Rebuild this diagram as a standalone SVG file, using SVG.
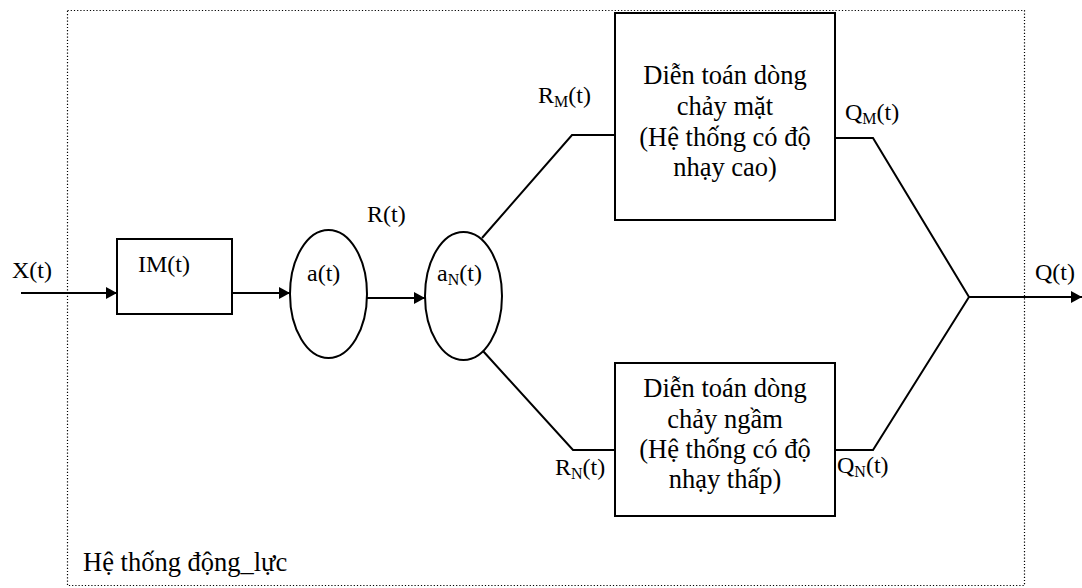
<svg xmlns="http://www.w3.org/2000/svg" width="1082" height="588" viewBox="0 0 1082 588">
<style>
text{font-family:"Liberation Serif","Times New Roman",serif;font-size:24px;fill:#000}
.s{font-size:16px}
.b{font-size:26.5px}
.c{text-anchor:middle}
.ln{stroke:#000;stroke-width:2;fill:none}
.shape{stroke:#000;stroke-width:2;fill:#fff}
</style>
<defs>
<marker id="arr" viewBox="0 0 11 12" refX="11" refY="6" markerWidth="11" markerHeight="12" markerUnits="userSpaceOnUse" orient="auto">
<path d="M0,0 L11,6 L0,12 Z" fill="#000"/>
</marker>
</defs>
<g id="frame">
<rect x="67.5" y="10.5" width="957" height="575" fill="none" stroke="#000" stroke-width="1.2" stroke-dasharray="1.2,2"/>
<text class="b" x="83" y="571">Hệ thống động_lực</text>
</g>
<g id="connectors">
<line class="ln" x1="21" y1="293" x2="117" y2="293" marker-end="url(#arr)"/>
<line class="ln" x1="232" y1="293" x2="290" y2="293" marker-end="url(#arr)"/>
<line class="ln" x1="367" y1="298" x2="425" y2="298" marker-end="url(#arr)"/>
<polyline class="ln" points="482,238 572,135 615,135"/>
<polyline class="ln" points="483,351 573,450 615,450"/>
<polyline class="ln" points="835,138 873,138 969,297"/>
<polyline class="ln" points="835,450 873,450 969,297"/>
<line class="ln" x1="969" y1="297" x2="1082" y2="297" marker-end="url(#arr)"/>
</g>
<g id="labels">
<text x="12" y="278">X(t)</text>
<text x="367" y="222">R(t)</text>
<text x="538" y="103">R<tspan class="s" dy="4">M</tspan><tspan dy="-4">(t)</tspan></text>
<text x="555" y="475">R<tspan class="s" dy="4">N</tspan><tspan dy="-4">(t)</tspan></text>
<text x="845" y="120">Q<tspan class="s" dy="4">M</tspan><tspan dy="-4">(t)</tspan></text>
<text x="837" y="473">Q<tspan class="s" dy="4">N</tspan><tspan dy="-4">(t)</tspan></text>
<text x="1035" y="280">Q(t)</text>
</g>
<g id="node-im">
<rect class="shape" x="117" y="239" width="115" height="75"/>
<text x="138" y="272">IM(t)</text>
</g>
<g id="node-a">
<ellipse class="shape" cx="328.5" cy="294" rx="38.5" ry="64"/>
<text x="307" y="281">a(t)</text>
</g>
<g id="node-an">
<ellipse class="shape" cx="463.5" cy="296" rx="38.5" ry="64"/>
<text x="437" y="281">a<tspan class="s" dy="4">N</tspan><tspan dy="-4">(t)</tspan></text>
</g>
<g id="node-mat">
<rect class="shape" x="615" y="13" width="220" height="207"/>
<text class="b c" x="725" y="84">Diễn toán dòng</text>
<text class="b c" x="725" y="115">chảy mặt</text>
<text class="b c" x="725" y="146">(Hệ thống có độ</text>
<text class="b c" x="725" y="176">nhạy cao)</text>
</g>
<g id="node-ngam">
<rect class="shape" x="615" y="363" width="220" height="153"/>
<text class="b c" x="725" y="397">Diễn toán dòng</text>
<text class="b c" x="725" y="428">chảy ngầm</text>
<text class="b c" x="725" y="458">(Hệ thống có độ</text>
<text class="b c" x="725" y="488">nhạy thấp)</text>
</g>
</svg>
